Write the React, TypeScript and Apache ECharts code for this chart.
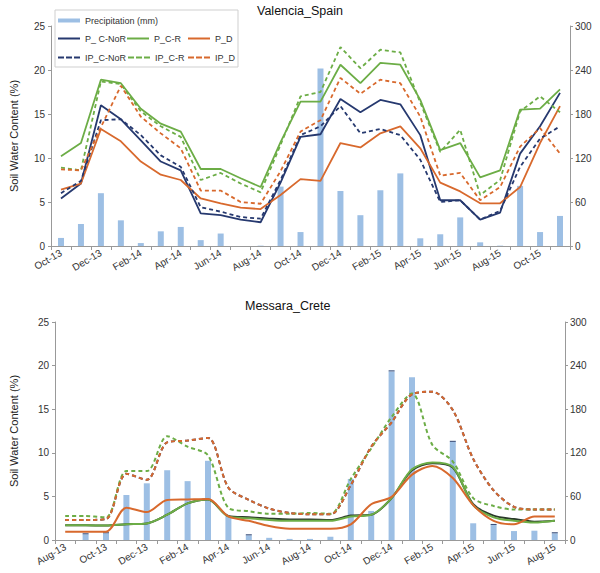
import React, { useEffect, useRef } from "react";
import * as echarts from "echarts";

const topCats = ["Oct-13","Nov-13","Dec-13","Jan-14","Feb-14","Mar-14","Apr-14","May-14","Jun-14","Jul-14","Aug-14","Sep-14","Oct-14","Nov-14","Dec-14","Jan-15","Feb-15","Mar-15","Apr-15","May-15","Jun-15","Jul-15","Aug-15","Sep-15","Oct-15","Nov-15"];
const topPrecip = [11,30,72,35,4,20,26,8,17,0,0.5,81,19,242,75,42,76,99,10.5,16,39,5,0.5,82,19,41];
const topPCNoR = [5.4,7.1,16.0,14.4,12.0,9.6,8.6,3.7,3.5,3.0,2.7,7.2,12.4,12.7,16.7,15.2,16.6,16.1,12.6,5.2,5.2,3.0,3.8,10.5,13.6,17.4];
const topPCR = [10.2,11.7,18.9,18.5,15.6,13.9,13.0,8.75,8.75,7.7,6.7,11.8,16.4,16.4,20.6,18.5,20.8,20.6,16.6,10.9,11.7,7.8,8.6,15.5,15.6,17.8];
const topPD = [6.4,7.1,13.3,11.9,9.6,8.1,7.5,5.4,4.85,4.35,4.2,5.8,7.6,7.4,11.7,11.2,12.8,13.6,11.1,7.2,6.2,4.85,4.85,6.7,11.7,15.9];
const topIPCNoR = [6.0,7.4,14.3,14.4,12.6,10.3,9.0,4.4,3.9,3.3,3.1,7.5,12.6,13.6,15.9,12.8,13.3,12.6,9.8,5.0,5.2,3.0,4.0,9.0,12.2,13.6];
const topIPCR = [8.9,8.6,18.7,18.4,15.3,13.6,12.4,7.5,8.3,7.1,6.1,11.5,17.0,17.5,22.6,20.2,22.3,22.0,16.3,10.7,13.2,5.8,7.5,15.3,17.0,15.2];
const topIPD = [8.7,8.6,13.5,18.2,14.7,12.8,11.1,6.3,6.3,5.0,4.8,8.5,13.0,14.3,19.1,17.3,18.9,18.5,14.7,8.0,8.3,5.2,6.7,11.3,13.4,10.5];

const botCats = ["Aug-13","Sep-13","Oct-13","Nov-13","Dec-13","Jan-14","Feb-14","Mar-14","Apr-14","May-14","Jun-14","Jul-14","Aug-14","Sep-14","Oct-14","Nov-14","Dec-14","Jan-15","Feb-15","Mar-15","Apr-15","May-15","Jun-15","Jul-15","Aug-15"];
const botPrecip = [0,7.8,9.2,62,78,96,81,109,33,6.4,3,1.5,1.5,4.5,84,40,232,224,0,135,23,20.6,12.3,12.8,9.2];
const botCap = [0,1.5,1.5,0,0,0,0,0,0,1.5,0,0,0,0,0,0,1.5,0,0,1.5,0,1.5,0,0,1.5];
const botPCNoR = [1.7,1.7,1.65,1.8,1.9,2.9,4.2,4.65,2.75,2.6,2.45,2.35,2.35,2.3,2.8,2.9,4.8,8.0,8.8,8.3,4.1,2.8,2.4,2.1,2.2];
const botPCR = [1.7,1.7,1.65,1.8,1.9,2.9,4.2,4.65,2.7,2.5,2.3,2.2,2.2,2.2,2.7,2.9,4.8,8.1,8.9,8.4,4.0,2.6,2.2,2.0,2.2];
const botPD = [0.95,0.95,0.95,3.7,3.2,4.6,4.65,4.7,2.7,2.2,1.6,1.3,1.3,1.3,1.8,4.1,4.95,7.5,8.5,7.1,4.0,2.2,1.8,2.7,2.7];
const botIPCNoR = [2.3,2.3,2.4,7.6,6.9,11.2,11.4,11.7,6.0,4.6,3.6,3.1,2.95,2.95,6.3,10.7,13.5,16.7,17.0,14.9,9.3,5.7,3.8,3.5,3.5];
const botIPCR = [2.74,2.74,2.6,7.9,7.9,11.9,10.7,9.7,3.7,3.3,3.0,3.0,3.1,3.0,7.0,10.5,14.1,16.8,10.9,9.0,4.8,3.9,3.5,3.5,3.5];
const botIPD = [2.3,2.3,2.4,7.6,6.9,11.2,11.4,11.7,6.0,4.6,3.6,3.1,2.95,2.95,6.3,10.7,13.5,16.7,17.0,14.9,9.3,5.7,3.8,3.5,3.5];

const NAVY = "#26396f";
const GREEN = "#6cad46";
const ORANGE = "#d8692d";
const BLUE = "#9dbfe4";
const FONT = "'Liberation Sans', Arial, sans-serif";
const DASH_ICON = "path://M0,0h6v2h-6z M8,0h6v2h-6z M16,0h6v2h-6z";
const SOLID_ICON = "path://M0,0h22v2h-22z";

export default function App() {
  const ref = useRef<HTMLDivElement>(null);
  useEffect(() => {
    if (!ref.current) return;
    const chart = echarts.init(ref.current, null, { renderer: "svg" });
    const axisLineStyle = { lineStyle: { color: "#999", width: 1 } };
    const xAxisBase = (gridIndex: number, data: string[]) => ({
      type: "category",
      gridIndex,
      data,
      boundaryGap: true,
      axisLine: axisLineStyle,
      axisTick: { show: true, interval: 0, length: 4, lineStyle: { color: "#999" } },
      axisLabel: { interval: 1, rotate: 30, fontSize: 10, color: "#333", margin: 6, fontFamily: FONT },
      splitLine: { show: false },
    });
    const yLeft = (gridIndex: number, nameGap: number) => ({
      type: "value",
      gridIndex,
      min: 0,
      max: 25,
      interval: 5,
      position: "left",
      name: "Soil Water Content (%)",
      nameLocation: "middle",
      nameRotate: 90,
      nameGap,
      nameTextStyle: { fontSize: 11, color: "#222", fontFamily: FONT },
      axisLine: { show: true, ...axisLineStyle },
      axisTick: { show: true, length: 3, lineStyle: { color: "#999" } },
      axisLabel: { fontSize: 10, color: "#333", margin: 6, fontFamily: FONT },
      splitLine: { show: false },
    });
    const yRight = (gridIndex: number) => ({
      type: "value",
      gridIndex,
      min: 0,
      max: 300,
      interval: 60,
      position: "right",
      axisLine: { show: true, ...axisLineStyle },
      axisTick: { show: true, length: 3, lineStyle: { color: "#999" } },
      axisLabel: { fontSize: 10, color: "#333", margin: 5, fontFamily: FONT },
      splitLine: { show: false },
    });
    const line = (name: string, data: number[], color: string, dashed: boolean, xi: number, yi: number, smooth: boolean) => ({
      name,
      type: "line",
      xAxisIndex: xi,
      yAxisIndex: yi,
      data,
      symbol: "none",
      smooth: smooth ? 0.3 : false,
      lineStyle: { color, width: smooth ? 2 : 1.8, type: dashed ? [4, 3] : "solid" },
      itemStyle: { color },
    });
    const legendItem = (name: string, left: number, top: number, icon: string, h = 2) => ({
      data: [name],
      left,
      top,
      padding: 0,
      itemWidth: 22,
      itemHeight: h,
      itemGap: 4,
      icon,
      symbolKeepAspect: false,
      z: 10,
      textStyle: { fontSize: 9, color: "#333", fontFamily: FONT },
    });
    const option: any = {
      animation: false,
      textStyle: { fontFamily: FONT },
      title: [
        { text: "Valencia_Spain", left: 257, top: 4, padding: 0, textStyle: { fontSize: 12.5, fontWeight: "normal", color: "#111", fontFamily: FONT } },
        { text: "Messara_Crete", left: 245, top: 299, padding: 0, textStyle: { fontSize: 12.5, fontWeight: "normal", color: "#111", fontFamily: FONT } },
      ],
      graphic: [
        { type: "rect", shape: { x: 55, y: 10, width: 183, height: 57 }, style: { fill: "#fff", stroke: "#cfcfcf", lineWidth: 1 }, z: 5 },
      ],
      legend: [
        legendItem("Precipitation (mm)", 58, 16, "rect", 4),
        legendItem("P_ C-NoR", 58, 34, SOLID_ICON),
        legendItem("P_C-R", 127, 34, SOLID_ICON),
        legendItem("P_D", 188, 34, SOLID_ICON),
        legendItem("IP_C-NoR", 58, 53, DASH_ICON),
        legendItem("IP_C-R", 128, 53, DASH_ICON),
        legendItem("IP_D", 188, 53, DASH_ICON),
      ],
      grid: [
        { left: 43, top: 26, width: 527, height: 220 },
        { left: 48, top: 322, width: 517, height: 218 },
      ],
      xAxis: [xAxisBase(0, topCats), xAxisBase(1, botCats)],
      yAxis: [yLeft(0, 32), yRight(0), yLeft(1, 36), yRight(1)],
      series: [
        { name: "Precipitation (mm)", type: "bar", xAxisIndex: 0, yAxisIndex: 1, data: topPrecip, barWidth: 6, itemStyle: { color: BLUE } },
        line("P_ C-NoR", topPCNoR, NAVY, false, 0, 0, false),
        line("P_C-R", topPCR, GREEN, false, 0, 0, false),
        line("P_D", topPD, ORANGE, false, 0, 0, false),
        line("IP_C-NoR", topIPCNoR, NAVY, true, 0, 0, false),
        line("IP_C-R", topIPCR, GREEN, true, 0, 0, false),
        line("IP_D", topIPD, ORANGE, true, 0, 0, false),
        { name: "Precipitation (mm)", type: "bar", xAxisIndex: 1, yAxisIndex: 3, data: botPrecip, barWidth: 6, stack: "bp", itemStyle: { color: BLUE } },
        { name: "cap", type: "bar", xAxisIndex: 1, yAxisIndex: 3, data: botCap, barWidth: 6, stack: "bp", itemStyle: { color: "#3b4f7a" } },
        line("IP_C-NoR", botIPCNoR, NAVY, true, 1, 2, true),
        line("P_ C-NoR", botPCNoR, "#2a3a2a", false, 1, 2, true),
        line("P_C-R", botPCR, GREEN, false, 1, 2, true),
        line("P_D", botPD, ORANGE, false, 1, 2, true),
        line("IP_C-R", botIPCR, GREEN, true, 1, 2, true),
        line("IP_D", botIPD, ORANGE, true, 1, 2, true),
      ],
    };
    chart.setOption(option);
    return () => chart.dispose();
  }, []);
  return <div ref={ref} style={{ position: "fixed", left: 0, top: 0, width: 600, height: 573, background: "#fff" }} />;
}
